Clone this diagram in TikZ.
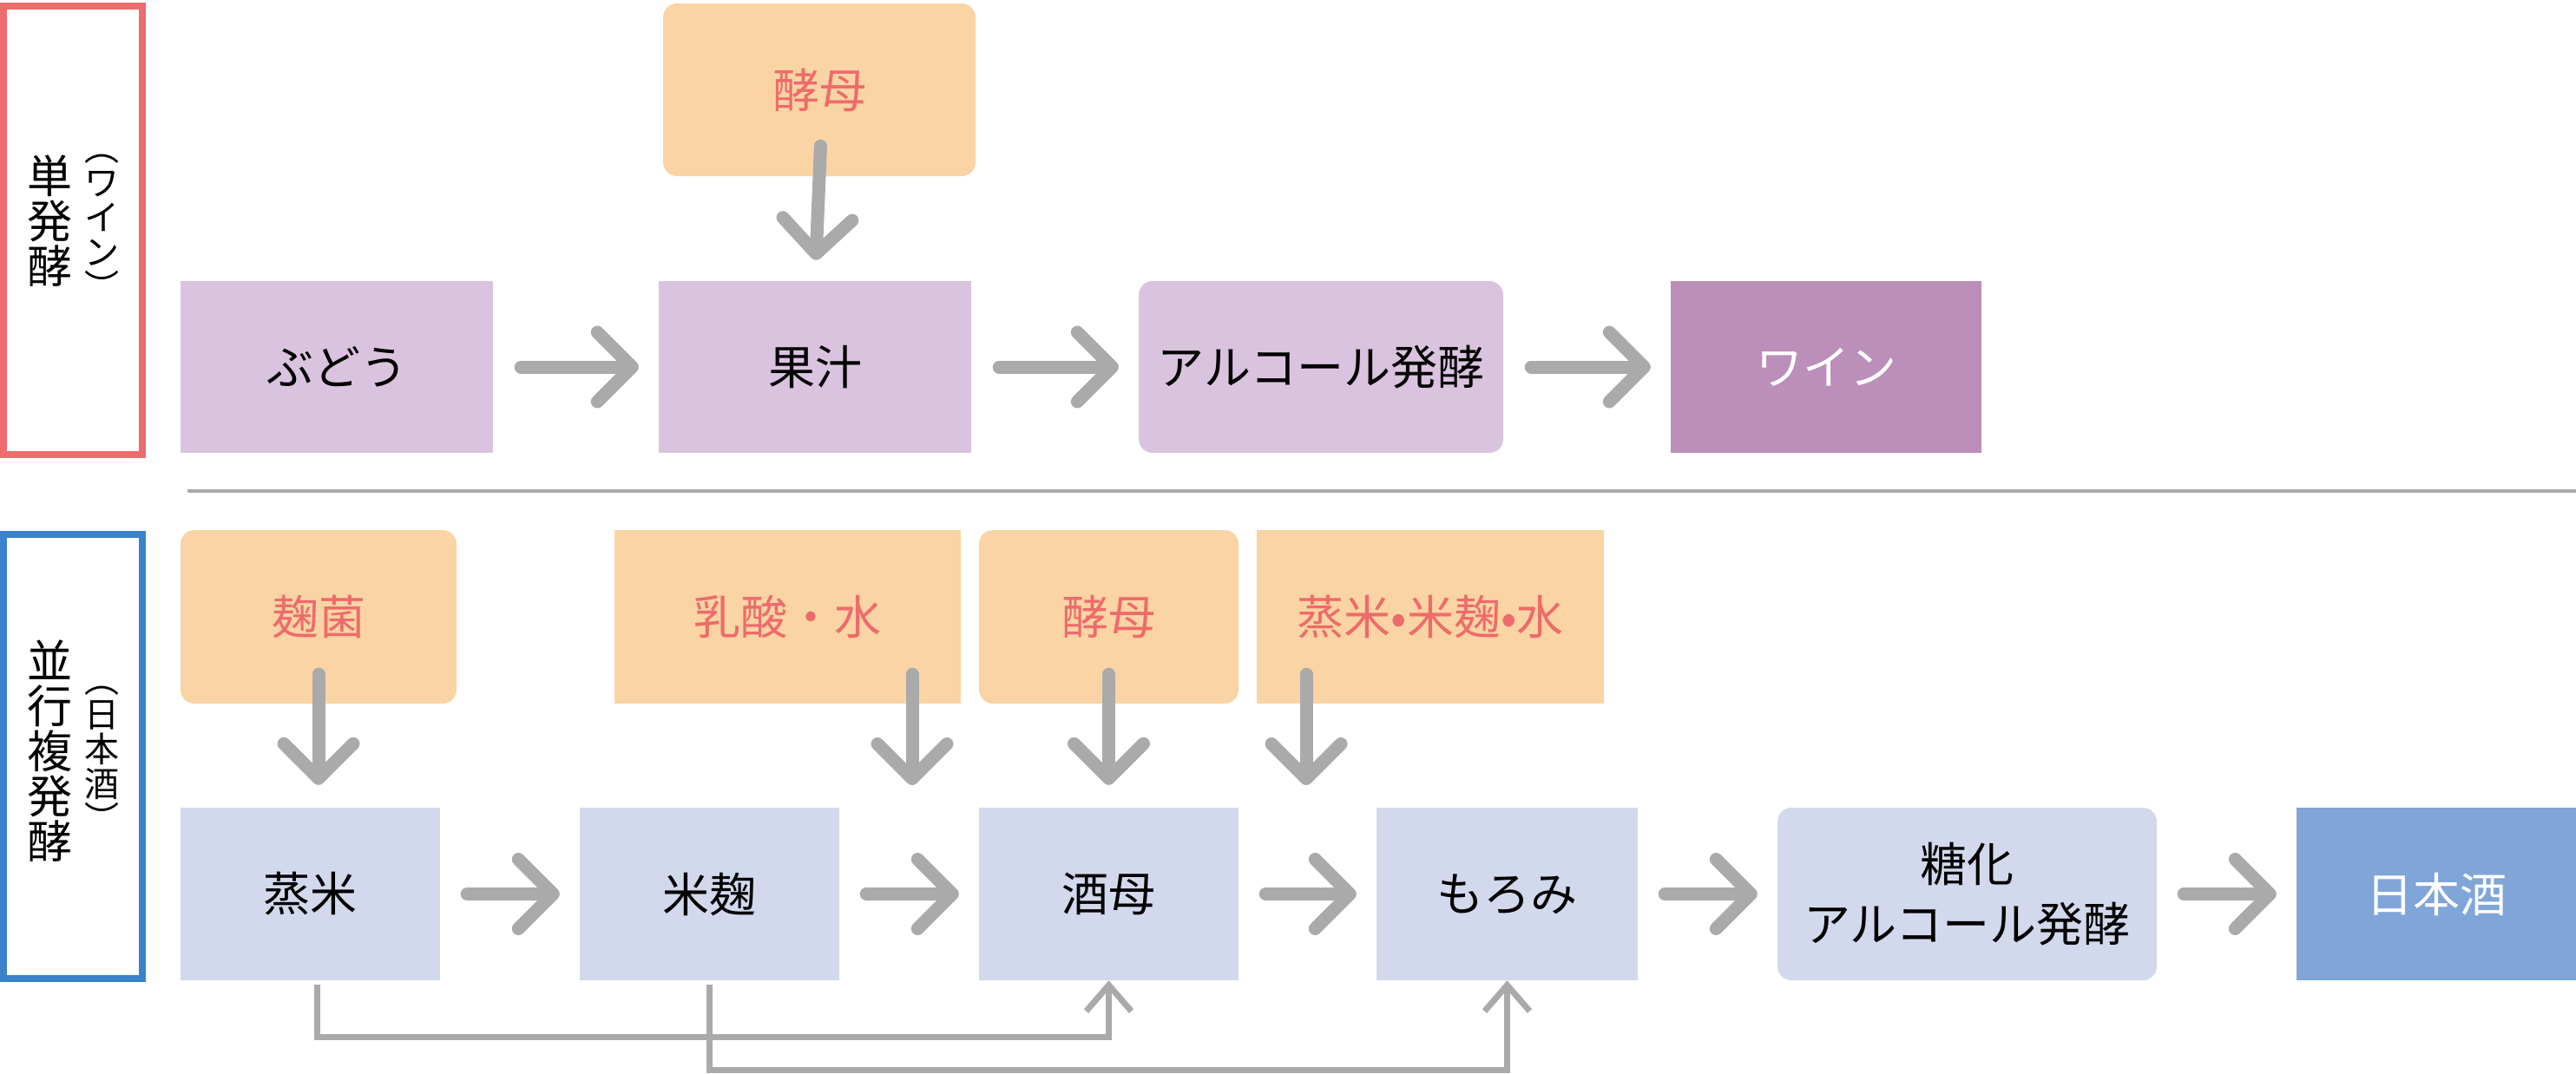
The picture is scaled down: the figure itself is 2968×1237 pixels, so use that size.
\documentclass[tikz,border=0pt]{standalone}
\usepackage{fontspec}
\setmainfont{Noto Sans CJK JP}
\usetikzlibrary{arrows.meta}
\definecolor{cpurl}{HTML}{DAC3DE}
\definecolor{cpurd}{HTML}{BC8EBA}
\definecolor{corange}{HTML}{FAD4A4}
\definecolor{ctext}{HTML}{EE6B6B}
\definecolor{cbluel}{HTML}{D3D9EC}
\definecolor{cblued}{HTML}{80A5D8}
\definecolor{cgray}{HTML}{AAAAAA}
\definecolor{cred}{HTML}{EE6B6E}
\definecolor{cblue}{HTML}{3A82CC}
\begin{document}
\begin{tikzpicture}[x=1pt,y=-1pt,
  box/.style={rectangle, inner sep=0pt, align=center, font=\fontsize{54}{69}\selectfont},
  purlbox/.style={box, fill=cpurl},
  purdbox/.style={box, fill=cpurd, text=white},
  orbox/.style={box, fill=corange, text=ctext},
  blbox/.style={box, fill=cbluel},
  bdbox/.style={box, fill=cblued, text=white},
  rnd/.style={rounded corners=16pt},
  flow/.style={draw=cgray, line width=15pt, line cap=round,
    -{Straight Barb[length=40pt,width=80pt,round]}},
  conn/.style={draw=cgray, line width=7pt,
    -{Straight Barb[length=30pt,width=52pt]}},
  frame/.style={draw, line width=8pt, fill=none, minimum width=160pt, inner sep=0pt},
  vmain/.style={inner sep=0pt, align=center, font=\fontsize{52}{52}\selectfont},
  vsub/.style={inner sep=0pt, align=center, font=\fontsize{40}{40}\selectfont}
]
\useasboundingbox (0,0) rectangle (2968,1237);

% left frames
\node[frame, draw=cred, minimum height=517pt] (frameA) at (84,265.5) {};
\node[frame, draw=cblue, minimum height=512pt] (frameB) at (84,872) {};
\node[vmain] (labA) at (57,255) {単\\発\\酵};
\node[vsub] (subA) at (117,262) {︵\\ワ\\イ\\ン\\︶};
\node[vmain] (labB) at (57,866) {並\\行\\複\\発\\酵};
\node[vsub] (subB) at (117,875) {︵\\日\\本\\酒\\︶};

% separator
\coordinate (sepL) at (216,566);
\coordinate (sepR) at (2968,566);
\draw[cgray, line width=4pt] (sepL) -- (sepR);

% top row
\node[orbox, rnd, minimum width=360pt, minimum height=199pt] (yeastA) at (944,103.5) {酵母};
\node[purlbox, minimum width=360pt, minimum height=198pt] (budou) at (388,423) {ぶどう};
\node[purlbox, minimum width=360pt, minimum height=198pt] (juice) at (939,423) {果汁};
\node[purlbox, rnd, minimum width=420pt, minimum height=198pt] (alc) at (1522,423) {アルコール発酵};
\node[purdbox, minimum width=358pt, minimum height=198pt] (wine) at (2104,423) {ワイン};

\draw[flow, shorten <=32pt, shorten >=23pt] (budou) -- (juice);
\draw[flow, shorten <=32pt, shorten >=23pt] (juice) -- (alc);
\draw[flow, shorten <=32pt, shorten >=23pt] (alc) -- (wine);
\draw[flow, shorten <=-35pt, shorten >=24pt] (yeastA.south) -- (juice.north);

% bottom ingredient row
\node[orbox, rnd, minimum width=318pt, minimum height=200pt] (koji) at (367,711) {麹菌};
\node[orbox, minimum width=399pt, minimum height=200pt] (lactic) at (907.5,711) {乳酸・水};
\node[orbox, rnd, minimum width=299pt, minimum height=200pt] (yeastB) at (1277.5,711) {酵母};
\node[orbox, minimum width=400pt, minimum height=200pt] (mix) at (1648,711) {蒸米•米麹•水};

% bottom process row
\node[blbox, minimum width=299pt, minimum height=199pt] (mushi) at (357.5,1030.5) {蒸米};
\node[blbox, minimum width=299pt, minimum height=199pt] (kome) at (817.5,1030.5) {米麹};
\node[blbox, minimum width=299pt, minimum height=199pt] (shubo) at (1277.5,1030.5) {酒母};
\node[blbox, minimum width=301pt, minimum height=199pt] (moromi) at (1736.5,1030.5) {もろみ};
\node[blbox, rnd, minimum width=437pt, minimum height=199pt] (touka) at (2266.5,1030.5) {糖化\\アルコール発酵};
\node[bdbox, minimum width=322pt, minimum height=199pt] (sake) at (2807,1030.5) {日本酒};

\draw[flow, shorten <=31pt, shorten >=23pt] (mushi) -- (kome);
\draw[flow, shorten <=31pt, shorten >=23pt] (kome) -- (shubo);
\draw[flow, shorten <=31pt, shorten >=23pt] (shubo) -- (moromi);
\draw[flow, shorten <=31pt, shorten >=23pt] (moromi) -- (touka);
\draw[flow, shorten <=31pt, shorten >=23pt] (touka) -- (sake);

\coordinate (gapA) at (1051,931);
\coordinate (gapB) at (1505,931);
\draw[flow, shorten <=-34pt, shorten >=26pt] (koji.south) -- (koji.south |- mushi.north);
\draw[flow, shorten <=-34pt, shorten >=26pt] (lactic.south -| gapA) -- (gapA);
\draw[flow, shorten <=-34pt, shorten >=26pt] (yeastB.south) -- (shubo.north);
\draw[flow, shorten <=-34pt, shorten >=26pt] (mix.south -| gapB) -- (gapB);

% lower connectors
\draw[conn, shorten <=5pt] ([xshift=8pt]mushi.south) -- ++(0,65) -| (shubo.south);
\draw[conn, shorten <=5pt] (kome.south) -- ++(0,103) -| (moromi.south);
\end{tikzpicture}
\end{document}
